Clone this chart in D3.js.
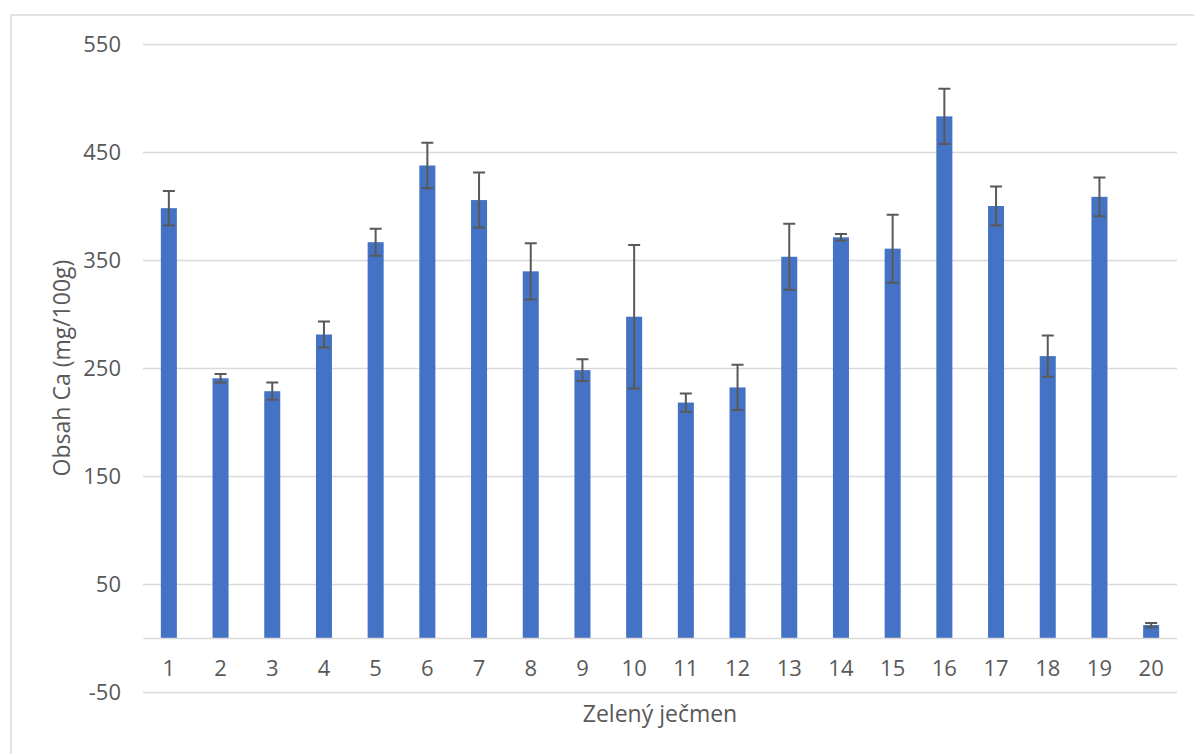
<!DOCTYPE html>
<html>
<head>
<meta charset="utf-8">
<script src="https://cdn.jsdelivr.net/npm/d3@7"></script>
<style>
  body { margin: 0; background: #fff; }
  text { font-family: "Open Sans", sans-serif; fill: #595959; }
</style>
</head>
<body>
<svg id="chart" width="1194" height="754"></svg>
<script>
const samples = ['1', '2', '3', '4', '5', '6', '7', '8', '9', '10',
  '11', '12', '13', '14', '15', '16', '17', '18', '19', '20']
const calcium = [398, 240.5, 228.5, 281, 366.5, 437.5, 405.5, 339.5, 248, 297.5,
  218, 232, 353, 371, 360.5, 483, 400, 261, 408.5, 12]
const errors = [16, 4, 8, 12, 12.5, 21, 25.5, 26, 10, 66.5,
  8.5, 21, 30.5, 3, 31.5, 25.5, 18, 19, 18, 2]
const yTicks = [-50, 50, 150, 250, 350, 450, 550]

const xTitle = 'Zelený ječmen'
const yTitle = 'Obsah Ca (mg/100g)'

const svg = d3.select('#chart')
const width = +svg.attr('width')
const height = +svg.attr('height')

// chart frame (only top and left edges visible in the original)
svg.append('path')
  .attr('d', `M11,${height} V15 H${width}`)
  .attr('fill', 'none')
  .attr('stroke', '#d9d9d9')
  .attr('stroke-width', 1.5)

const left = 143
const right = 1177

const x = d3.scaleBand()
  .domain(samples)
  .range([left, right])
  .paddingInner(0.69)
  .paddingOuter(0.345)

const y = d3.scaleLinear()
  .domain([-50, 550])
  .range([692, 44])

// gridlines + y labels
const yAxis = d3.axisLeft(y)
  .tickValues(yTicks)
  .tickFormat(d => String(d))
  .tickSize(-(right - left))
  .tickPadding(22)

const yAxisG = svg.append('g')
  .attr('transform', `translate(${left},0)`)
  .call(yAxis)
yAxisG.select('.domain').remove()
yAxisG.selectAll('.tick line')
  .attr('stroke', '#d9d9d9')
  .attr('stroke-width', 1.5)
yAxisG.selectAll('.tick text')
  .attr('font-size', 22)
  .attr('fill', '#595959')
  .style('font-family', '"Open Sans", sans-serif')

// bars
const data = samples.map((s, i) => ({ s, v: calcium[i], e: errors[i] }))

svg.append('g').selectAll('rect')
  .data(data)
  .join('rect')
  .attr('x', d => x(d.s))
  .attr('y', d => y(d.v))
  .attr('width', x.bandwidth())
  .attr('height', d => y(0) - y(d.v))
  .attr('fill', '#4472c4')

// zero line / category axis
const xAxis = d3.axisBottom(x).tickSize(0).tickPadding(22)
const xAxisG = svg.append('g')
  .attr('transform', `translate(0,${y(0)})`)
  .call(xAxis)
xAxisG.select('.domain')
  .attr('stroke', '#d9d9d9')
  .attr('stroke-width', 1.5)
xAxisG.selectAll('.tick text')
  .attr('font-size', 22)
  .attr('fill', '#595959')
  .style('font-family', '"Open Sans", sans-serif')

// error bars
const cap = 6
const errG = svg.append('g')
  .attr('stroke', '#595959')
  .attr('stroke-width', 2)
  .attr('fill', 'none')
errG.selectAll('path')
  .data(data)
  .join('path')
  .attr('d', d => {
    const cx = x(d.s) + x.bandwidth() / 2
    const t = y(d.v + d.e)
    const b = y(d.v - d.e)
    return `M${cx},${t} V${b} M${cx - cap},${t} H${cx + cap} M${cx - cap},${b} H${cx + cap}`
  })

// axis titles
svg.append('text')
  .attr('x', (left + right) / 2)
  .attr('y', 722)
  .attr('text-anchor', 'middle')
  .attr('font-size', 23)
  .text(xTitle)

svg.append('text')
  .attr('transform', `translate(70,${(y(550) + y(-50)) / 2}) rotate(-90)`)
  .attr('text-anchor', 'middle')
  .attr('font-size', 23)
  .text(yTitle)
</script>
</body>
</html>
